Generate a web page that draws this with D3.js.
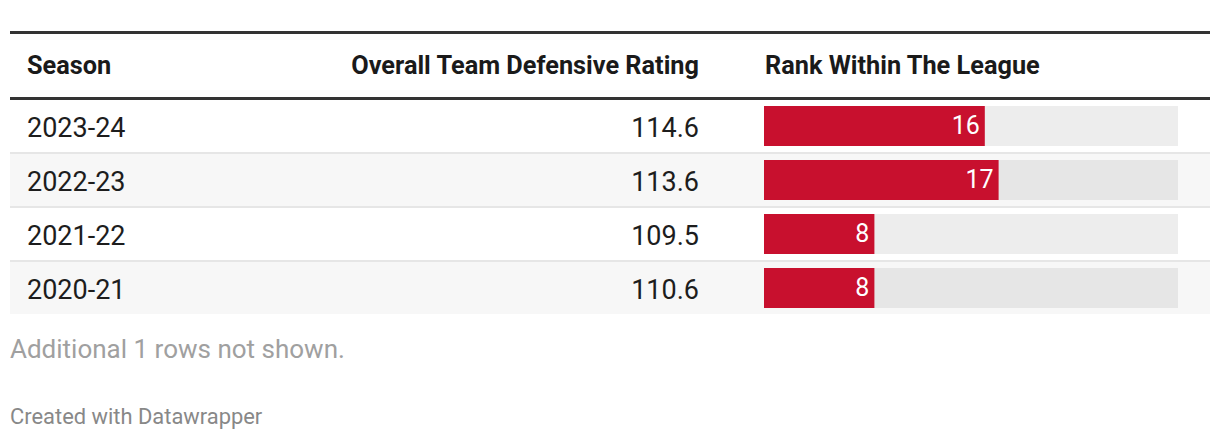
<!DOCTYPE html>
<html>
<head>
<meta charset="utf-8">
<script src="https://cdn.jsdelivr.net/npm/d3@7"></script>
<style>
  html, body { margin: 0; padding: 0; background: #fff; }
  svg { display: block; font-family: Roboto, "Noto Sans", sans-serif; }
</style>
</head>
<body>
<svg id="chart" width="1220" height="440"></svg>
<script>
const seasons = ["2023-24", "2022-23", "2021-22", "2020-21"];
const ratings = [114.6, 113.6, 109.5, 110.6];
const ranks = [16, 17, 8, 8];
const headers = ["Season", "Overall Team Defensive Rating", "Rank Within The League"];
const rankMax = 30;
const footnote = "Additional 1 rows not shown.";
const credit = "Created with Datawrapper";

const svg = d3.select("#chart");
const rowsData = seasons.map((s, i) => ({ season: s, rating: ratings[i], rank: ranks[i], i }));

const y = d3.scaleBand().domain(seasons).range([100, 316]).paddingInner(0);
const x = d3.scaleLinear().domain([0, rankMax]).range([764, 1178]);
const rowH = y.bandwidth() - 2;

// top and header rules
svg.append("rect").attr("x", 10).attr("y", 31).attr("width", 1200).attr("height", 3).attr("fill", "#333");
svg.append("rect").attr("x", 10).attr("y", 97).attr("width", 1200).attr("height", 3).attr("fill", "#333");

// headers
const hdr = svg.append("g").attr("font-weight", 700).attr("font-size", 25.3).attr("fill", "#1a1a1a");
hdr.append("text").attr("x", 27).attr("y", 74).text(headers[0]);
hdr.append("text").attr("x", 699).attr("y", 74).attr("text-anchor", "end").text(headers[1]);
hdr.append("text").attr("x", 765).attr("y", 74).text(headers[2]);

const rows = svg.append("g").selectAll("g").data(rowsData).join("g")
  .attr("transform", d => `translate(0,${y(d.season)})`);

rows.append("rect").attr("x", 10).attr("y", 0).attr("width", 1200).attr("height", rowH)
  .attr("fill", d => d.i % 2 ? "#f7f7f7" : "#ffffff");
rows.filter(d => d.i < seasons.length - 1).append("rect")
  .attr("x", 10).attr("y", rowH).attr("width", 1200).attr("height", 2).attr("fill", "#e6e6e6");

rows.append("text").attr("x", 27).attr("y", 37).attr("font-size", 27).attr("fill", "#1d1d1d")
  .text(d => d.season);
rows.append("text").attr("x", 699).attr("y", 37).attr("font-size", 27).attr("fill", "#1d1d1d")
  .attr("text-anchor", "end").text(d => d3.format(".1f")(d.rating));

rows.append("rect").attr("x", x(0)).attr("y", 6).attr("width", x(rankMax) - x(0)).attr("height", 40)
  .attr("fill", d => d.i % 2 ? "#e6e6e6" : "#ededed");
rows.append("rect").attr("x", x(0)).attr("y", 6).attr("width", d => x(d.rank) - x(0)).attr("height", 40)
  .attr("fill", "#c8102e");
rows.append("text").attr("x", d => x(d.rank) - 5).attr("y", 34).attr("font-size", 25)
  .attr("fill", "#fff").attr("text-anchor", "end").text(d => d.rank);

svg.append("text").attr("x", 10).attr("y", 358).attr("font-size", 26).attr("fill", "#a0a0a0").text(footnote);
svg.append("text").attr("x", 10).attr("y", 424).attr("font-size", 21.9).attr("fill", "#888").text(credit);
</script>
</body>
</html>
